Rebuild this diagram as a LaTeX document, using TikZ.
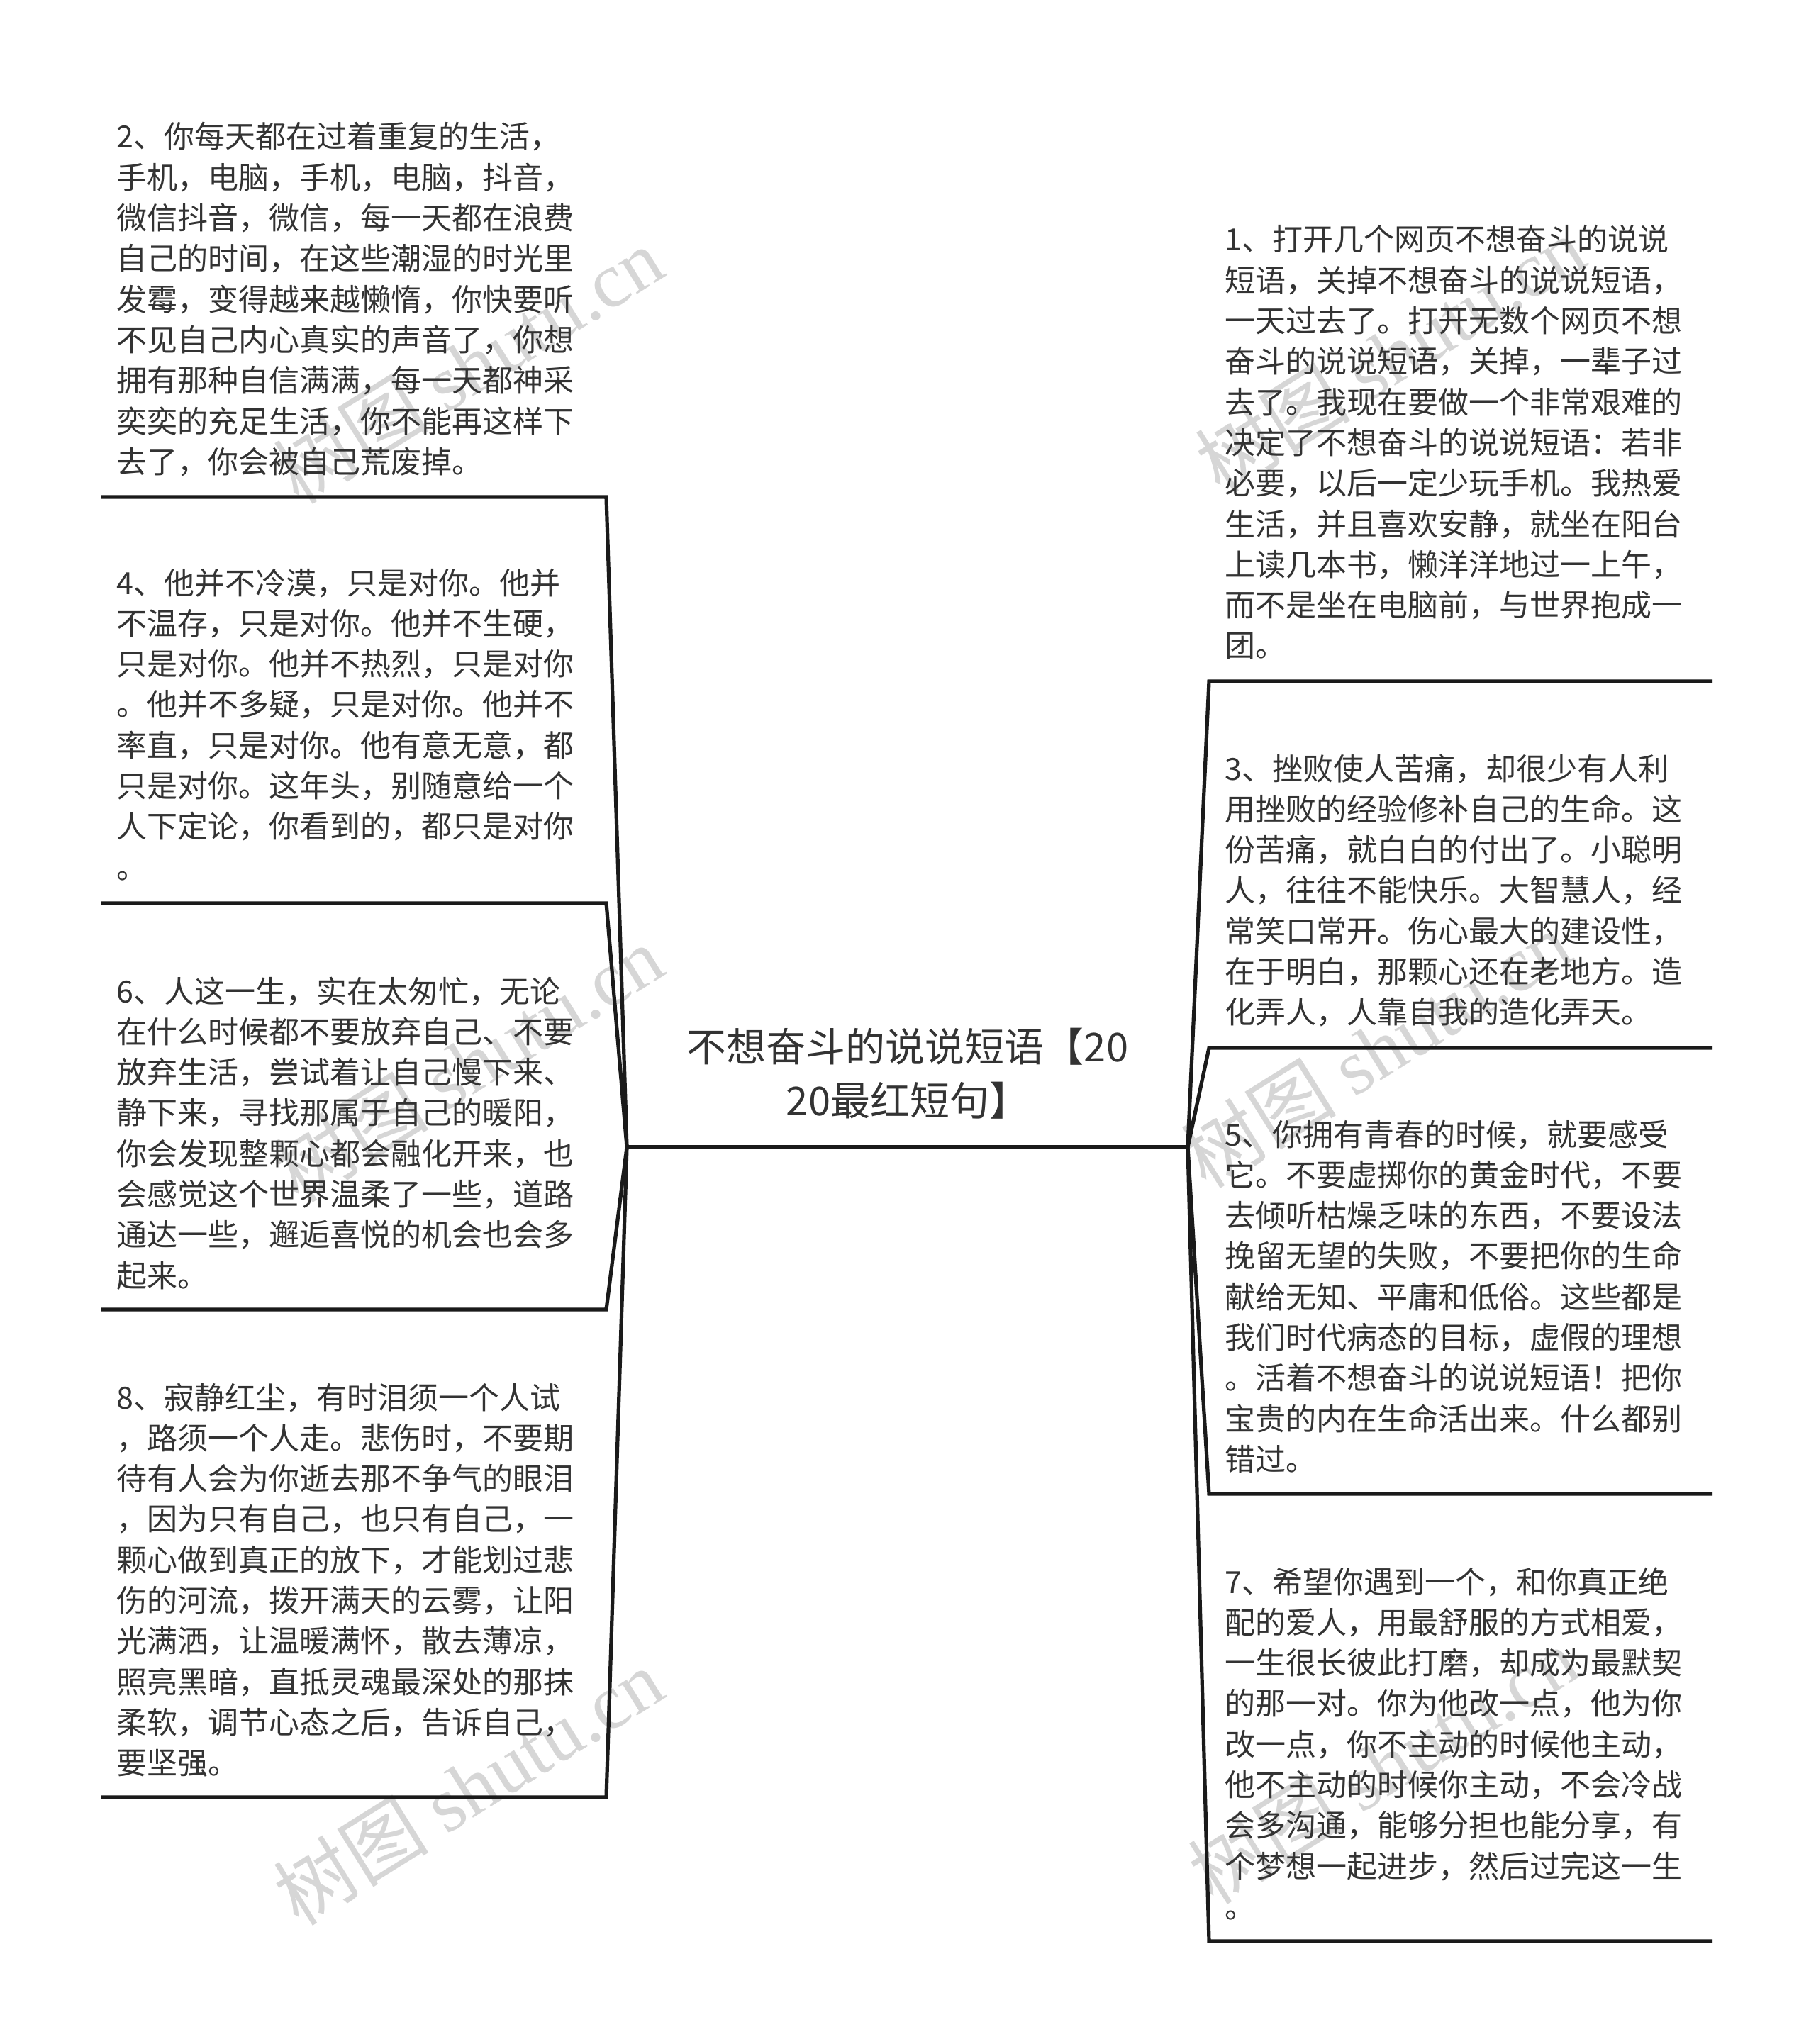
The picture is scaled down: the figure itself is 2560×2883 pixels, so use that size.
\documentclass[tikz,border=0pt]{standalone}
\usepackage{fontspec}
\setmainfont{Noto Sans CJK SC}
\newfontfamily\wmlatin{Liberation Serif}
\definecolor{txt}{HTML}{333333}
\definecolor{ln}{HTML}{1A1A1A}
\definecolor{wmc}{HTML}{D6D6D6}
\begin{document}
\begin{tikzpicture}[x=0.5pt,y=-0.5pt,
  body/.style={anchor=base west, inner sep=0pt, text width=380pt, align=left,
    font=\fontsize{21.5pt}{28.65pt}\selectfont, text=txt},
  title/.style={anchor=base, inner sep=0pt, text width=420pt, align=center,
    font=\fontsize{28pt}{38pt}\selectfont, text=txt},
  link/.style={draw=ln, line width=2.6pt, line join=miter},
  wm/.style={text=wmc, inner sep=0pt, font=\fontsize{55pt}{60pt}\selectfont}]
\useasboundingbox (0,0) rectangle (2560,2883);
\fill[white] (0,0) rectangle (2560,2883);

% watermarks
\node[wm, rotate=32] (wm1) at (660,515) {树图 {\wmlatin shutu.cn}};
\node[wm, rotate=32] (wm2) at (660,1500) {树图 {\wmlatin shutu.cn}};
\node[wm, rotate=32] (wm3) at (660,2520) {树图 {\wmlatin shutu.cn}};
\node[wm, rotate=32] (wm4) at (1960,500) {树图 {\wmlatin shutu.cn}};
\node[wm, rotate=32] (wm5) at (1940,1480) {树图 {\wmlatin shutu.cn}};
\node[wm, rotate=32] (wm6) at (1950,2490) {树图 {\wmlatin shutu.cn}};

% centre
\node[title] (root) at (1280,1497) {不想奋斗的说说短语【20\\20最红短句】};
\coordinate (cl) at (884,1618);
\coordinate (cr) at (1675,1618);
\draw[link] (cl) -- (cr);

% left items
\node[body] (t2) at (164,209) {2、你每天都在过着重复的生活，\\手机，电脑，手机，电脑，抖音，\\微信抖音，微信，每一天都在浪费\\自己的时间，在这些潮湿的时光里\\发霉，变得越来越懒惰，你快要听\\不见自己内心真实的声音了，你想\\拥有那种自信满满，每一天都神采\\奕奕的充足生活，你不能再这样下\\去了，你会被自己荒废掉。};
\coordinate (u2a) at (143,701);
\coordinate (u2b) at (855,701);

\node[body] (t4) at (164,838) {4、他并不冷漠，只是对你。他并\\不温存，只是对你。他并不生硬，\\只是对你。他并不热烈，只是对你\\。他并不多疑，只是对你。他并不\\率直，只是对你。他有意无意，都\\只是对你。这年头，别随意给一个\\人下定论，你看到的，都只是对你\\。};
\coordinate (u4a) at (143,1274);
\coordinate (u4b) at (855,1274);

\node[body] (t6) at (164,1414) {6、人这一生，实在太匆忙，无论\\在什么时候都不要放弃自己、不要\\放弃生活，尝试着让自己慢下来、\\静下来，寻找那属于自己的暖阳，\\你会发现整颗心都会融化开来，也\\会感觉这个世界温柔了一些，道路\\通达一些，邂逅喜悦的机会也会多\\起来。};
\coordinate (u6a) at (143,1847);
\coordinate (u6b) at (855,1847);

\node[body] (t8) at (164,1987) {8、寂静红尘，有时泪须一个人试\\，路须一个人走。悲伤时，不要期\\待有人会为你逝去那不争气的眼泪\\，因为只有自己，也只有自己，一\\颗心做到真正的放下，才能划过悲\\伤的河流，拨开满天的云雾，让阳\\光满洒，让温暖满怀，散去薄凉，\\照亮黑暗，直抵灵魂最深处的那抹\\柔软，调节心态之后，告诉自己，\\要坚强。};
\coordinate (u8a) at (143,2535);
\coordinate (u8b) at (855,2535);

% right items
\node[body] (t1) at (1727,354) {1、打开几个网页不想奋斗的说说\\短语，关掉不想奋斗的说说短语，\\一天过去了。打开无数个网页不想\\奋斗的说说短语，关掉，一辈子过\\去了。我现在要做一个非常艰难的\\决定了不想奋斗的说说短语：若非\\必要，以后一定少玩手机。我热爱\\生活，并且喜欢安静，就坐在阳台\\上读几本书，懒洋洋地过一上午，\\而不是坐在电脑前，与世界抱成一\\团。};
\coordinate (u1a) at (1705,961);
\coordinate (u1b) at (2415,961);

\node[body] (t3) at (1727,1100) {3、挫败使人苦痛，却很少有人利\\用挫败的经验修补自己的生命。这\\份苦痛，就白白的付出了。小聪明\\人，往往不能快乐。大智慧人，经\\常笑口常开。伤心最大的建设性，\\在于明白，那颗心还在老地方。造\\化弄人，人靠自我的造化弄天。};
\coordinate (u3a) at (1705,1478);
\coordinate (u3b) at (2415,1478);

\node[body] (t5) at (1727,1616) {5、你拥有青春的时候，就要感受\\它。不要虚掷你的黄金时代，不要\\去倾听枯燥乏味的东西，不要设法\\挽留无望的失败，不要把你的生命\\献给无知、平庸和低俗。这些都是\\我们时代病态的目标，虚假的理想\\。活着不想奋斗的说说短语！把你\\宝贵的内在生命活出来。什么都别\\错过。};
\coordinate (u5a) at (1705,2107);
\coordinate (u5b) at (2415,2107);

\node[body] (t7) at (1727,2247) {7、希望你遇到一个，和你真正绝\\配的爱人，用最舒服的方式相爱，\\一生很长彼此打磨，却成为最默契\\的那一对。你为他改一点，他为你\\改一点，你不主动的时候他主动，\\他不主动的时候你主动，不会冷战\\会多沟通，能够分担也能分享，有\\个梦想一起进步，然后过完这一生\\。};
\coordinate (u7a) at (1705,2738);
\coordinate (u7b) at (2415,2738);

% underlines + connectors
\draw[link] (u2a) -- (u2b) -- (cl);
\draw[link] (u4a) -- (u4b) -- (cl);
\draw[link] (u6a) -- (u6b) -- (cl);
\draw[link] (u8a) -- (u8b) -- (cl);
\draw[link] (u1b) -- (u1a) -- (cr);
\draw[link] (u3b) -- (u3a) -- (cr);
\draw[link] (u5b) -- (u5a) -- (cr);
\draw[link] (u7b) -- (u7a) -- (cr);
\end{tikzpicture}
\end{document}
